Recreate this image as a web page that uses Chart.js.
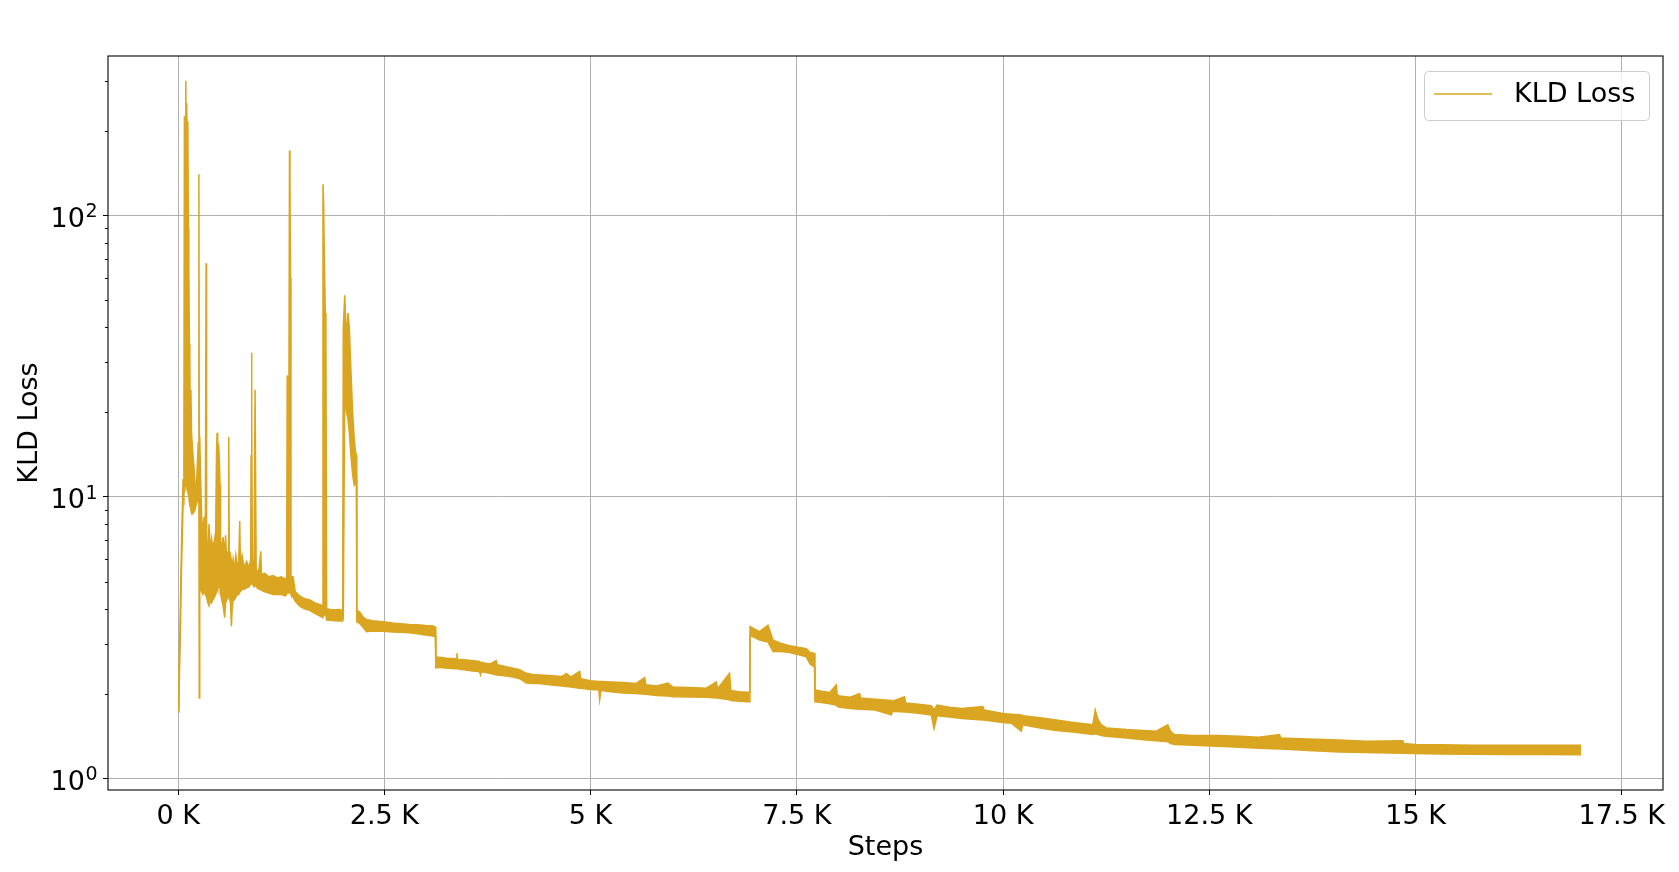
<!DOCTYPE html>
<html>
<head>
<meta charset="utf-8">
<title>KLD Loss</title>
<script src="https://cdn.jsdelivr.net/npm/chart.js@4.4.1/dist/chart.umd.min.js"></script>
<style>
  html, body { margin: 0; padding: 0; background: #fff; }
  canvas { display: block; }
</style>
</head>
<body>
<canvas id="kldChart" width="1679" height="872"></canvas>
<script>
// KLD loss per training step, read off the picture as the top and bottom
// edge of the noisy band (spikes are single high/low points)

const steps = [
    0, 10, 20, 30, 40, 50, 60, 70, 76, 82,
    88, 93, 99, 105, 111, 118, 124, 130, 137, 142,
    148, 155, 162, 175, 190, 205, 222, 244, 252, 256,
    262, 272, 285, 300, 315, 330, 339, 345, 360, 375,
    390, 405, 420, 440, 455, 465, 472, 480, 490, 500,
    508, 515, 530, 545, 565, 575, 590, 605, 614, 620,
    635, 646, 655, 666, 680, 700, 720, 735, 747, 755,
    775, 800, 830, 860, 880, 884, 889, 895, 900, 920,
    933, 946, 960, 980, 1002, 1010, 1050, 1100, 1150, 1200,
    1250, 1300, 1316, 1322, 1330, 1340, 1350, 1356, 1362, 1368,
    1393, 1420, 1474, 1530, 1595, 1660, 1737, 1750, 1756, 1764,
    1772, 1784, 1792, 1800, 1850, 1900, 1950, 1995, 2002, 2020,
    2040, 2058, 2075, 2095, 2115, 2135, 2150, 2162, 2166, 2200,
    2250, 2282, 2350, 2484, 2600, 2700, 2807, 2900, 3000, 3090,
    3118, 3124, 3171, 3260, 3373, 3380, 3386, 3500, 3655, 3665,
    3675, 3780, 3857, 3870, 3979, 4060, 4140, 4221, 4300, 4383,
    4500, 4650, 4706, 4760, 4868, 4880, 5000, 5100, 5110, 5125,
    5250, 5393, 5550, 5656, 5670, 5800, 5938, 5999, 6200, 6403,
    6524, 6540, 6685, 6700, 6800, 6908, 6926, 6932, 7049, 7150,
    7211, 7300, 7413, 7500, 7615, 7660, 7714, 7720, 7800, 7900,
    7978, 7990, 8019, 8150, 8261, 8275, 8450, 8645, 8660, 8806,
    8820, 9000, 9130, 9163, 9200, 9350, 9500, 9755, 9770, 9998,
    10100, 10220, 10240, 10450, 10644, 10850, 11088, 11117, 11150, 11190,
    11250, 11500, 11700, 11856, 11997, 12030, 12078, 12300, 12600, 12866,
    13100, 13350, 13370, 13700, 14078, 14400, 14845, 14860, 14995, 15300,
    15694, 16100, 16500, 17007
];

const kldHigh = [
    1.80, 2.4, 3.2, 4.6, 6.5, 8.8, 11.5, 14.0, 225, 60,
    200, 300, 180, 250, 120, 216, 90, 62, 35, 29.8,
    18, 24, 17, 14.7, 13, 11.2, 10.8, 15.6, 140, 16,
    16.4, 12, 8.5, 7.5, 8.5, 7.0, 67.5, 7.0, 6.5, 8.0,
    6.3, 7.1, 6.6, 7.0, 7.5, 14, 16.9, 12.5, 15.5, 13.5,
    11, 7, 6.5, 7.2, 6.2, 7.3, 5.9, 6.4, 16.3, 5.8,
    6.2, 5.9, 5.6, 6.0, 5.5, 6.2, 5.6, 5.9, 8.2, 5.6,
    6.2, 5.6, 5.9, 5.6, 6.0, 14, 32.5, 20, 6.0, 5.6,
    24, 5.6, 5.4, 5.5, 6.4, 5.3, 5.35, 5.2, 5.25, 5.15,
    5.2, 5.1, 5.2, 27, 20, 9, 170, 130, 60, 5.2,
    5.2, 4.6, 4.45, 4.35, 4.3, 4.2, 4.12, 4.08, 129, 110,
    72, 45, 35, 4.0, 3.98, 3.97, 3.98, 3.95, 40, 52,
    36, 45, 40, 28, 20, 16, 14.5, 14, 3.95, 3.9,
    3.72, 3.67, 3.63, 3.60, 3.56, 3.54, 3.52, 3.51, 3.49, 3.48,
    3.45, 2.70, 2.69, 2.67, 2.66, 2.78, 2.65, 2.63, 2.60, 2.58,
    2.58, 2.55, 2.62, 2.53, 2.49, 2.46, 2.43, 2.36, 2.34, 2.33,
    2.32, 2.30, 2.36, 2.29, 2.40, 2.26, 2.22, 2.21, 2.21, 2.21,
    2.20, 2.19, 2.17, 2.28, 2.15, 2.13, 2.18, 2.11, 2.10, 2.09,
    2.20, 2.08, 2.36, 2.05, 2.03, 2.02, 2.02, 3.46, 3.32, 3.50,
    3.10, 3.02, 2.96, 2.93, 2.89, 2.80, 2.78, 2.06, 2.04, 2.02,
    2.15, 1.98, 1.96, 1.94, 2.00, 1.93, 1.91, 1.89, 1.88, 1.95,
    1.85, 1.83, 1.81, 1.75, 1.82, 1.79, 1.77, 1.80, 1.75, 1.70,
    1.69, 1.68, 1.67, 1.64, 1.61, 1.58, 1.55, 1.75, 1.62, 1.55,
    1.51, 1.49, 1.48, 1.47, 1.55, 1.47, 1.43, 1.42, 1.42, 1.41,
    1.40, 1.43, 1.39, 1.38, 1.367, 1.355, 1.36, 1.33, 1.32, 1.315,
    1.31, 1.31, 1.31, 1.31
];

const kldLow = [
    1.72, 1.95, 2.6, 3.6, 5.4, 7.2, 9.4, 10.2, 10.5, 11,
    11, 11.5, 11, 10.8, 10.5, 10.4, 10.2, 10.0, 9.6, 9.3,
    9.2, 9.0, 8.8, 8.7, 8.8, 9.0, 9.5, 9.8, 9.5, 1.93,
    5.0, 4.7, 4.6, 4.5, 4.6, 4.5, 4.8, 4.4, 4.2, 4.1,
    4.3, 4.2, 4.3, 4.4, 4.5, 4.6, 4.8, 4.7, 4.9, 4.8,
    4.7, 4.5, 4.3, 4.1, 3.72, 4.2, 4.3, 4.4, 4.5, 4.4,
    4.2, 3.47, 4.0, 4.3, 4.3, 4.4, 4.5, 4.5, 4.6, 4.6,
    4.7, 4.7, 4.75, 4.8, 4.9, 4.9, 5.0, 5.0, 4.9, 4.8,
    4.9, 4.8, 4.75, 4.7, 4.7, 4.65, 4.6, 4.55, 4.5, 4.5,
    4.5, 4.45, 4.5, 4.6, 4.6, 4.55, 4.6, 4.6, 4.55, 4.5,
    4.4, 4.25, 4.09, 4.0, 3.95, 3.85, 3.75, 3.72, 3.75, 3.8,
    3.8, 3.8, 3.78, 3.65, 3.64, 3.63, 3.62, 3.62, 3.7, 25,
    20, 19, 17, 14, 12, 11, 11.2, 11.5, 3.6, 3.55,
    3.42, 3.32, 3.34, 3.33, 3.31, 3.30, 3.29, 3.26, 3.23, 3.20,
    3.18, 2.47, 2.48, 2.46, 2.45, 2.45, 2.45, 2.42, 2.39, 2.33,
    2.39, 2.36, 2.33, 2.33, 2.31, 2.29, 2.26, 2.18, 2.17, 2.17,
    2.15, 2.13, 2.12, 2.11, 2.09, 2.09, 2.07, 2.06, 1.90, 2.05,
    2.03, 2.01, 2.00, 1.99, 1.99, 1.97, 1.96, 1.95, 1.945, 1.94,
    1.93, 1.93, 1.90, 1.89, 1.88, 1.87, 1.87, 3.22, 3.10, 3.05,
    2.82, 2.82, 2.80, 2.76, 2.70, 2.55, 2.49, 1.87, 1.86, 1.84,
    1.82, 1.80, 1.79, 1.77, 1.76, 1.76, 1.75, 1.68, 1.73, 1.72,
    1.72, 1.70, 1.68, 1.50, 1.67, 1.65, 1.63, 1.61, 1.61, 1.58,
    1.57, 1.47, 1.55, 1.51, 1.48, 1.46, 1.43, 1.44, 1.43, 1.42,
    1.41, 1.39, 1.37, 1.36, 1.35, 1.33, 1.32, 1.31, 1.30, 1.29,
    1.28, 1.27, 1.27, 1.255, 1.241, 1.235, 1.228, 1.228, 1.224, 1.22,
    1.217, 1.216, 1.215, 1.214
];

const xTicks = [0, 2500, 5000, 7500, 10000, 12500, 15000, 17500];
const yMajorTicks = [1, 10, 100];
const yTickExponents = ["0", "1", "2"];
const yMinorTicks = [2, 3, 4, 5, 6, 7, 8, 9, 20, 30, 40, 50, 60, 70, 80, 90, 200, 300];

const lineColor = "#DAA520";
const fontFamily = "'DejaVu Sans', sans-serif";

Chart.defaults.font.family = fontFamily;
Chart.defaults.font.size = 27;
Chart.defaults.color = "#000";

// small minor tick marks on the log axis (matplotlib style)
const minorTickPlugin = {
    id: "minorTicks",
    afterDraw(chart) {
        const ctx = chart.ctx;
        const yScale = chart.scales.y;
        const left = chart.chartArea.left;
        ctx.save();
        ctx.strokeStyle = "#000";
        ctx.lineWidth = 1;
        yMinorTicks.forEach(v => {
            const py = Math.round(yScale.getPixelForValue(v)) + 0.5;
            ctx.beginPath();
            ctx.moveTo(left - 3, py);
            ctx.lineTo(left, py);
            ctx.stroke();
        });
        ctx.restore();
    }
};

// y labels as 10 with a raised exponent
const powerLabelPlugin = {
    id: "powerLabels",
    afterDraw(chart) {
        const ctx = chart.ctx;
        const yScale = chart.scales.y;
        const right = chart.chartArea.left - 11;
        ctx.save();
        ctx.fillStyle = "#000";
        ctx.textBaseline = "alphabetic";
        ctx.textAlign = "left";
        yMajorTicks.forEach((v, i) => {
            const py = yScale.getPixelForValue(v);
            ctx.font = "19px " + fontFamily;
            const expW = ctx.measureText(yTickExponents[i]).width;
            ctx.font = "27px " + fontFamily;
            const baseW = ctx.measureText("10").width;
            const x0 = right - expW - baseW;
            ctx.fillText("10", x0, py + 11.5);
            ctx.font = "19px " + fontFamily;
            ctx.fillText(yTickExponents[i], x0 + baseW + 0.5, py + 2);
        });
        ctx.restore();
    }
};

// black frame round the plot area
const framePlugin = {
    id: "frame",
    afterDraw(chart) {
        const { ctx, chartArea } = chart;
        ctx.save();
        ctx.strokeStyle = "#000";
        ctx.lineWidth = 1.1;
        ctx.strokeRect(chartArea.left, chartArea.top,
            chartArea.right - chartArea.left, chartArea.bottom - chartArea.top);
        ctx.restore();
    }
};

// legend box in the upper right corner
const legendBoxPlugin = {
    id: "legendBox",
    afterDraw(chart) {
        const { ctx, chartArea } = chart;
        const ds = chart.data.datasets[0];
        const w = 225, h = 49;
        const x = chartArea.right - 14 - w;
        const y = chartArea.top + 15;
        ctx.save();
        ctx.fillStyle = "rgba(255,255,255,0.8)";
        ctx.strokeStyle = "#cccccc";
        ctx.lineWidth = 1;
        ctx.beginPath();
        ctx.roundRect(x + 0.5, y + 0.5, w, h, 4);
        ctx.fill();
        ctx.stroke();
        ctx.strokeStyle = ds.borderColor;
        ctx.lineWidth = 1.5;
        ctx.beginPath();
        ctx.moveTo(x + 10, y + 23);
        ctx.lineTo(x + 68, y + 23);
        ctx.stroke();
        ctx.fillStyle = "#000";
        ctx.font = "27px " + fontFamily;
        ctx.textBaseline = "middle";
        ctx.textAlign = "left";
        ctx.fillText(ds.label, x + 90, y + 24);
        ctx.restore();
    }
};

new Chart(document.getElementById("kldChart"), {
    type: "line",
    data: {
        datasets: [
            {
                label: "KLD Loss",
                data: steps.map((s, i) => ({ x: s, y: kldHigh[i] })),
                borderColor: lineColor,
                backgroundColor: lineColor,
                borderWidth: 1.5,
                pointRadius: 0,
                tension: 0,
                fill: "+1"
            },
            {
                label: "KLD Loss low",
                data: steps.map((s, i) => ({ x: s, y: kldLow[i] })),
                borderColor: lineColor,
                borderWidth: 1.5,
                pointRadius: 0,
                tension: 0,
                fill: false
            }
        ]
    },
    options: {
        responsive: false,
        animation: false,
        devicePixelRatio: 1,
        layout: {
            autoPadding: false,
            padding: { top: 56, right: 16, bottom: 0, left: 0 }
        },
        plugins: {
            legend: { display: false },
            tooltip: { enabled: false }
        },
        scales: {
            x: {
                type: "linear",
                min: -850,
                max: 18000,
                afterBuildTicks: scale => { scale.ticks = xTicks.map(v => ({ value: v })); },
                afterFit: scale => { scale.height = 82; },
                ticks: {
                    callback: v => (v / 1000) + " K",
                    padding: 6,
                    maxRotation: 0,
                    autoSkip: false
                },
                grid: { color: "#b0b0b0", lineWidth: 1, tickColor: "#000", tickLength: 5 },
                border: { display: false },
                title: { display: true, text: "Steps", padding: { top: 0, bottom: 8 } }
            },
            y: {
                type: "logarithmic",
                min: 0.909,
                max: 368,
                afterBuildTicks: scale => { scale.ticks = yMajorTicks.map(v => ({ value: v, major: true })); },
                afterFit: scale => { scale.width = 108; },
                ticks: { display: false },
                grid: { color: "#b0b0b0", lineWidth: 1, tickColor: "#000", tickLength: 5 },
                border: { display: false },
                title: { display: true, text: "KLD Loss", padding: { top: 14, bottom: 0 } }
            }
        }
    },
    plugins: [minorTickPlugin, powerLabelPlugin, framePlugin, legendBoxPlugin]
});
</script>
</body>
</html>
